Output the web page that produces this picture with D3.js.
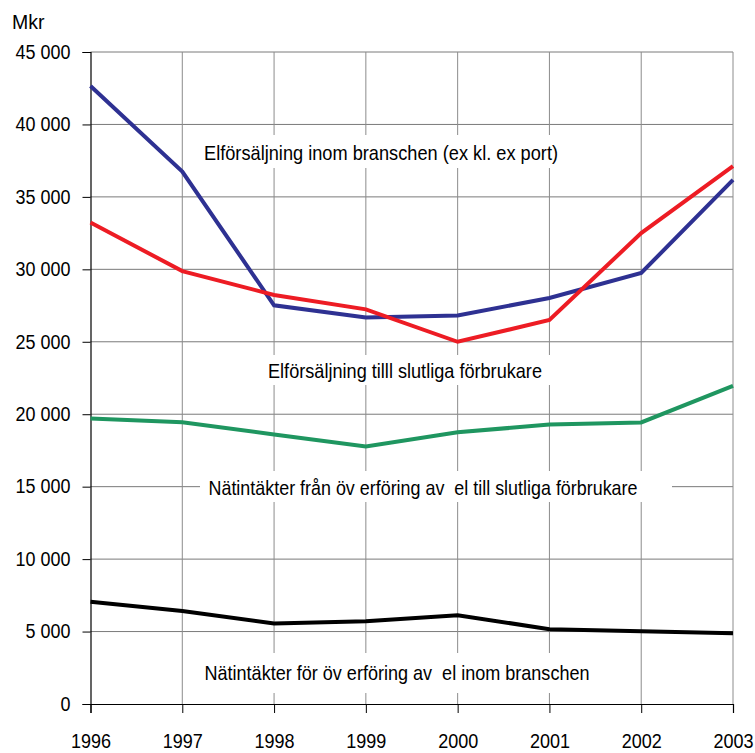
<!DOCTYPE html>
<html>
<head>
<meta charset="utf-8">
<script src="https://cdn.jsdelivr.net/npm/d3@7"></script>
<style>
body { margin: 0; background: #fff; }
text { font-family: "Liberation Sans", Arial, sans-serif; fill: #000; }
</style>
</head>
<body>
<svg id="chart"></svg>
<script>
var years = [1996, 1997, 1998, 1999, 2000, 2001, 2002, 2003];
var yTicks = [0, 5000, 10000, 15000, 20000, 25000, 30000, 35000, 40000, 45000];

// Mkr per year
var inomBranschen = [42650, 36750, 27520, 26670, 26820, 28020, 29750, 36170];
var slutligaForbrukare = [33230, 29880, 28230, 27240, 25000, 26500, 32500, 37130];
var natSlutliga = [19700, 19450, 18600, 17770, 18750, 19290, 19430, 21950];
var natInom = [7050, 6420, 5560, 5710, 6130, 5160, 5020, 4880];

var seriesNames = ["inom", "slutliga", "natSlutliga", "natInom"];
var seriesColors = ["#2e3192", "#ed1c24", "#1f9660", "#000000"];

var labelTexts = [
	"Elförsäljning inom branschen (ex kl. ex port)",
	"Elförsäljning tilll slutliga förbrukare",
	"Nätintäkter från öv erföring av  el till slutliga förbrukare",
	"Nätintäkter för öv erföring av  el inom branschen"
];

var W = 755, H = 753;
var margin = {top: 52, right: 22, bottom: 49, left: 90.5};

var svg = d3.select('#chart').attr('width', W).attr('height', H);

var x = d3.scaleLinear().domain([1996, 2003]).range([margin.left, W - margin.right]);
var y = d3.scaleLinear().domain([0, 45000]).range([H - margin.bottom, margin.top]);

var fmt = function(d){ return d3.format(",")(d).replace(/,/g, " "); };

// squeeze text horizontally a bit, like the narrow original font
function narrow(sel, k)
{
	sel.each(function(){
		var len = this.getComputedTextLength();
		d3.select(this).attr('textLength', len * k).attr('lengthAdjust', 'spacingAndGlyphs');
	});
}

// grid
var grid = svg.append('g');
grid.selectAll('line.h')
	.data(yTicks.slice(1))
	.enter().append('line')
	.attr('x1', x(1996)).attr('x2', x(2003))
	.attr('y1', function(d){ return y(d); }).attr('y2', function(d){ return y(d); })
	.attr('stroke', '#7a7a7a').attr('stroke-width', 1);
grid.selectAll('line.v')
	.data(years.slice(1))
	.enter().append('line')
	.attr('x1', function(d){ return x(d); }).attr('x2', function(d){ return x(d); })
	.attr('y1', y(45000)).attr('y2', y(0))
	.attr('stroke', '#8c8c8c').attr('stroke-width', 1);

// label boxes (mask gridlines)
var labelPos = [
	{cx: 381, cy: 152, w: 354, bx: 196, bw: 372, by: 135, bh: 33},
	{cx: 405, cy: 370, w: 274, bx: 258, bw: 300, by: 355, bh: 30},
	{cx: 423, cy: 487, w: 429, bx: 200, bw: 472, by: 471, bh: 31},
	{cx: 397, cy: 672, w: 385, bx: 195, bw: 405, by: 653, bh: 40}
];
var labels = svg.append('g');
labels.selectAll('rect')
	.data(labelPos)
	.enter().append('rect')
	.attr('x', function(d){ return d.bx; }).attr('y', function(d){ return d.by; })
	.attr('width', function(d){ return d.bw; }).attr('height', function(d){ return d.bh; })
	.attr('fill', '#fff');
labels.selectAll('text')
	.data(labelTexts)
	.enter().append('text')
	.attr('x', function(d, i){ return labelPos[i].cx; })
	.attr('y', function(d, i){ return labelPos[i].cy + 7.5; })
	.attr('text-anchor', 'middle')
	.attr('font-size', 21)
	.attr('textLength', function(d, i){ return labelPos[i].w; })
	.attr('lengthAdjust', 'spacingAndGlyphs')
	.style('white-space', 'pre')
	.text(function(d){ return d; });

// axes
var yAxis = d3.axisLeft(y).tickValues(yTicks).tickSize(8).tickPadding(12).tickFormat(fmt);
var gy = svg.append('g').attr('transform', 'translate(' + margin.left + ',0)').call(yAxis);
gy.select('.domain').attr('stroke', '#000').attr('stroke-width', 1.2);
gy.selectAll('.tick line').attr('stroke', '#000');
gy.selectAll('.tick text').attr('font-size', 19.5).attr('font-family', '"Liberation Sans", Arial, sans-serif')
	.call(narrow, 0.92);

var xAxis = d3.axisBottom(x).tickValues(years).tickSize(9).tickPadding(21).tickFormat(d3.format('d'));
var gx = svg.append('g').attr('transform', 'translate(0,' + y(0) + ')').call(xAxis);
gx.select('.domain').attr('stroke', '#000').attr('stroke-width', 1.2);
gx.selectAll('.tick line').attr('stroke', '#000');
gx.selectAll('.tick text').attr('font-size', 20).attr('font-family', '"Liberation Sans", Arial, sans-serif')
	.call(narrow, 0.9);

svg.append('text')
	.attr('x', 12).attr('y', 29)
	.attr('font-size', 19.5)
	.text('Mkr');

// lines
var allSeries = [inomBranschen, slutligaForbrukare, natSlutliga, natInom];
var line = d3.line()
	.x(function(d, i){ return x(years[i]); })
	.y(function(d){ return y(d); });

svg.append('g').selectAll('path')
	.data(allSeries)
	.enter().append('path')
	.attr('class', function(d, i){ return 'line-' + seriesNames[i]; })
	.attr('d', line)
	.attr('fill', 'none')
	.attr('stroke', function(d, i){ return seriesColors[i]; })
	.attr('stroke-width', 4)
	.attr('stroke-linejoin', 'miter');
</script>
</body>
</html>
